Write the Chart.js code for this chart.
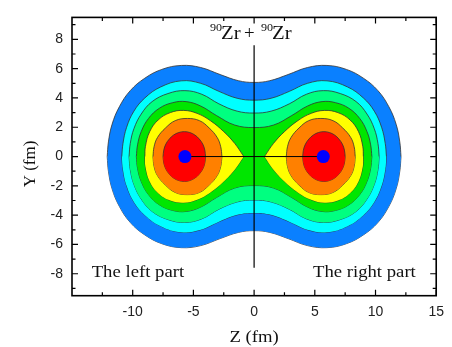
<!DOCTYPE html>
<html>
<head>
<meta charset="utf-8">
<script src="https://cdn.jsdelivr.net/npm/chart.js@4.4.1/dist/chart.umd.min.js"></script>
<style>
html, body { margin: 0; padding: 0; background: #fff; }
#wrap { width: 452px; height: 347px; }
</style>
</head>
<body>
<div id="wrap"><canvas id="contour-canvas" width="452" height="347"></canvas></div>
<script>
// contour fills, outside to inside
var levelColors = ["#0a80ff", "#00ffff", "#00ff80", "#00e600", "#ffff00", "#ff8000", "#ff0000"];

// upper half of each contour on the left side, [z, y] in fm (mirrored for the rest)
var blueEdge   = [[-12.1, 0], [-12.0, 1.0], [-11.7, 2.2], [-11.1, 3.4], [-10.2, 4.5], [-9.0, 5.35], [-7.6, 5.95], [-6.0, 6.22], [-4.4, 6.08], [-2.8, 5.6], [-1.3, 5.18], [0, 5.06]];
var cyanEdge   = [[-10.9, 0], [-10.8, 0.9], [-10.5, 2.0], [-9.9, 3.1], [-9.0, 4.0], [-7.7, 4.75], [-6.0, 5.17], [-4.4, 5.0], [-2.9, 4.45], [-1.4, 3.98], [0, 3.85]];
var mintEdge   = [[-10.3, 0], [-10.2, 0.9], [-9.9, 1.9], [-9.3, 2.9], [-8.4, 3.75], [-7.1, 4.3], [-5.7, 4.5], [-4.3, 4.25], [-2.9, 3.6], [-1.4, 3.1], [0, 2.97]];
var greenEdge  = [[-9.7, 0], [-9.6, 0.8], [-9.3, 1.7], [-8.7, 2.6], [-7.8, 3.3], [-6.7, 3.68], [-5.6, 3.75], [-4.4, 3.45], [-3.1, 2.8], [-1.6, 2.15], [0, 1.98]];
var yellowEdge = [[-9.0, 0], [-8.95, 0.7], [-8.6, 1.7], [-7.9, 2.5], [-6.9, 3.0], [-5.8, 3.15], [-4.7, 2.95], [-3.6, 2.45], [-2.5, 1.7], [-1.6, 0.9], [-0.85, 0]];
var orangeEdge = [[-8.33, 0], [-8.24, 0.67], [-7.96, 1.3], [-7.3, 1.95], [-6.5, 2.45], [-5.5, 2.6], [-4.5, 2.45], [-3.7, 1.95], [-3.04, 1.3], [-2.75, 0.67], [-2.65, 0]];
var redEdge    = [[-7.5, 0], [-7.44, 0.44], [-7.27, 0.85], [-6.98, 1.2], [-6.63, 1.47], [-6.2, 1.64], [-5.75, 1.7], [-5.3, 1.64], [-4.88, 1.47], [-4.52, 1.2], [-4.23, 0.85], [-4.06, 0.44], [-4.0, 0]];

var joinedEdges = [blueEdge, cyanEdge, mintEdge, greenEdge];
var lobeEdges = [yellowEdge, orangeEdge, redEdge];

var dotZ = [-5.7, 5.7];
var axisLineY = [7.6, -7.6];

var xTickValues = [-10, -5, 0, 5, 10, 15];
var xMinorValues = [-12.5, -7.5, -2.5, 2.5, 7.5, 12.5];
var yTickValues = [-8, -6, -4, -2, 0, 2, 4, 6, 8];
var yMinorValues = [-9, -7, -5, -3, -1, 1, 3, 5, 7, 9];

var serif = '"Liberation Serif", "Times New Roman", serif';
var sans = '"Liberation Sans", Arial, sans-serif';

function mirrorZ(edge) {
	return edge.slice().reverse().map(function(p) { return [-p[0], p[1]]; });
}

function toPoints(edge, sign) {
	return edge.map(function(p) { return { x: p[0], y: sign * p[1] }; });
}

// upper half fills down to its mirrored lower half, so each level is one closed area
function pushContour(edge, color, order) {
	datasets.push({
		data: toPoints(edge, 1),
		borderColor: "#333", borderWidth: 0.8,
		backgroundColor: color, fill: "+1",
		pointRadius: 0, tension: 0.4, order: order
	});
	datasets.push({
		data: toPoints(edge, -1),
		borderColor: "#333", borderWidth: 0.8,
		fill: false,
		pointRadius: 0, tension: 0.4, order: order
	});
}

var datasets = [];
var level = 0;
joinedEdges.forEach(function(edge) {
	pushContour(edge.concat(mirrorZ(edge).slice(1)), levelColors[level], 20 - level);
	level++;
});
lobeEdges.forEach(function(edge) {
	pushContour(edge, levelColors[level], 20 - level);
	pushContour(mirrorZ(edge), levelColors[level], 20 - level);
	level++;
});

// black guide lines and the two centres
datasets.push({
	data: [{ x: dotZ[0], y: 0 }, { x: dotZ[1], y: 0 }],
	borderColor: "#000", borderWidth: 1, pointRadius: 0, fill: false, order: 2
});
datasets.push({
	data: [{ x: 0, y: axisLineY[0] }, { x: 0, y: axisLineY[1] }],
	borderColor: "#000", borderWidth: 1.2, pointRadius: 0, fill: false, order: 2
});
datasets.push({
	data: dotZ.map(function(z) { return { x: z, y: 0 }; }),
	showLine: false, pointRadius: 6.5, pointBackgroundColor: "#0000ff",
	pointBorderWidth: 0, order: 1
});

function stretchText(ctx, text, x, y, font, sx) {
	ctx.save();
	ctx.font = font;
	ctx.translate(x, y);
	ctx.scale(sx, 1);
	ctx.fillText(text, 0, 0);
	ctx.restore();
}

var decor = {
	id: "decor",
	afterDraw: function(chart) {
		var ctx = chart.ctx;
		var a = chart.chartArea;
		var xs = chart.scales.x, ys = chart.scales.y;
		ctx.save();
		ctx.strokeStyle = "#000";
		ctx.lineWidth = 1.6;
		ctx.strokeRect(a.left, a.top, a.right - a.left, a.bottom - a.top);

		ctx.lineWidth = 1.2;
		ctx.beginPath();
		function xTick(v, len) {
			var px = xs.getPixelForValue(v);
			ctx.moveTo(px, a.bottom); ctx.lineTo(px, a.bottom - len);
			ctx.moveTo(px, a.top); ctx.lineTo(px, a.top + len);
		}
		function yTick(v, len) {
			var py = ys.getPixelForValue(v);
			ctx.moveTo(a.left, py); ctx.lineTo(a.left + len, py);
			ctx.moveTo(a.right, py); ctx.lineTo(a.right - len, py);
		}
		xTickValues.forEach(function(v) { xTick(v, 6); });
		xMinorValues.forEach(function(v) { xTick(v, 3.5); });
		yTickValues.forEach(function(v) { yTick(v, 6); });
		yMinorValues.forEach(function(v) { yTick(v, 3.5); });
		ctx.stroke();

		ctx.fillStyle = "#111";
		ctx.textBaseline = "alphabetic";
		ctx.textAlign = "left";
		// title of the system
		stretchText(ctx, "90", 210, 31, "11px " + serif, 1.1);
		stretchText(ctx, "Zr", 221, 39.3, "18px " + serif, 1.15);
		stretchText(ctx, "+", 244, 39.3, "18px " + serif, 1.05);
		stretchText(ctx, "90", 261, 31, "11px " + serif, 1.1);
		stretchText(ctx, "Zr", 272, 39.3, "18px " + serif, 1.15);

		stretchText(ctx, "The left part", 91.7, 276.5, "17px " + serif, 1.1);
		stretchText(ctx, "The right part", 313, 276.5, "17px " + serif, 1.1);

		// axis titles
		ctx.textAlign = "center";
		ctx.textBaseline = "middle";
		stretchText(ctx, "Z (fm)", (a.left + a.right) / 2, 338, "17px " + serif, 1.1);
		ctx.save();
		ctx.translate(31, 164);
		ctx.rotate(-Math.PI / 2);
		ctx.font = "17px " + serif;
		ctx.fillText("Y (fm)", 0, 0);
		ctx.restore();
		ctx.restore();
	}
};

var chart = new Chart(document.getElementById("contour-canvas"), {
	type: "line",
	data: { datasets: datasets },
	plugins: [decor],
	options: {
		responsive: false,
		animation: false,
		devicePixelRatio: 1,
		events: [],
		layout: { padding: { top: 7.7, right: 11, left: 0, bottom: 0 } },
		plugins: { legend: { display: false }, tooltip: { enabled: false } },
		scales: {
			x: {
				type: "linear", min: -15, max: 15,
				afterBuildTicks: function(s) { s.ticks = xTickValues.map(function(v) { return { value: v }; }); },
				afterFit: function(s) { s.height = 51.3; },
				grid: { display: false, drawTicks: false },
				border: { display: false },
				ticks: { padding: 8, maxRotation: 0, autoSkip: false, color: "#222", font: { family: sans, size: 14 } }
			},
			y: {
				type: "linear", min: -9.5, max: 9.5,
				afterBuildTicks: function(s) { s.ticks = yTickValues.map(function(v) { return { value: v }; }); },
				afterFit: function(s) { s.width = 72; },
				grid: { display: false, drawTicks: false },
				border: { display: false },
				ticks: { padding: 9, autoSkip: false, color: "#222", font: { family: sans, size: 14 } }
			}
		}
	}
});
</script>
</body>
</html>
